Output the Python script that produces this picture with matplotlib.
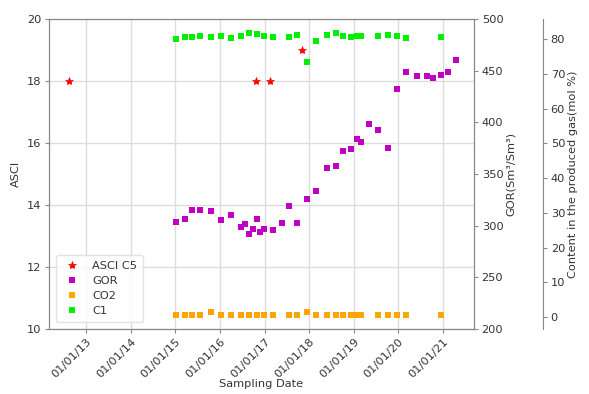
import pandas as pd
import matplotlib.pyplot as plt
import matplotlib.dates as mdates

# ---------------- data ----------------
asci_dates = ['2012-08-12', '2016-10-23', '2017-02-15', '2017-11-01']
asci_c5 = [18, 18, 18, 19]

gor_dates = ['2015-01-05', '2015-03-18', '2015-05-14', '2015-07-24', '2015-10-20',
             '2016-01-08', '2016-04-04', '2016-06-25', '2016-07-23', '2016-08-27',
             '2016-10-01', '2016-10-31', '2016-11-24', '2016-12-27', '2017-03-08',
             '2017-05-26', '2017-07-16', '2017-09-26', '2017-12-14', '2018-02-25',
             '2018-05-23', '2018-08-08', '2018-10-04', '2018-12-06', '2019-01-29',
             '2019-03-01', '2019-05-08', '2019-07-16', '2019-10-06', '2019-12-20',
             '2020-03-05', '2020-06-01', '2020-08-19', '2020-10-12', '2020-12-12',
             '2021-02-10', '2021-04-14']
gor = [304, 306, 315, 315, 314, 305, 310, 299, 302, 292, 297, 306, 294, 296.5, 296,
       303, 319, 303, 326, 334, 356, 358, 372, 374, 384, 381, 398, 393, 375, 432,
       449, 444.5, 444.5, 443, 446, 449, 460]

gas_dates = ['2015-01-05', '2015-03-18', '2015-05-14', '2015-07-24', '2015-10-20',
             '2016-01-08', '2016-04-04', '2016-06-25', '2016-08-27', '2016-10-31',
             '2016-12-27', '2017-03-08', '2017-07-16', '2017-09-26', '2017-12-14',
             '2018-02-25', '2018-05-23', '2018-08-08', '2018-10-04', '2018-12-06',
             '2019-01-29', '2019-03-01', '2019-07-16', '2019-10-06', '2019-12-20',
             '2020-03-05', '2020-12-12']
co2 = [0.7, 0.7, 0.7, 0.7, 1.4, 0.7, 0.7, 0.7, 0.7, 0.7, 0.7, 0.7, 0.7, 0.7, 1.4,
       0.7, 0.7, 0.7, 0.7, 0.7, 0.7, 0.7, 0.7, 0.7, 0.7, 0.7, 0.7]
c1 = [80.0, 80.7, 80.7, 81.0, 80.5, 81.0, 80.3, 80.8, 81.7, 81.4, 80.8, 80.5, 80.7,
      81.2, 73.3, 79.6, 81.3, 81.7, 80.9, 80.6, 80.9, 80.9, 80.9, 81.2, 80.8, 80.4, 80.7]
# ----------------------------------------------------------

grey = '#888888'
txt = '#333333'
plt.rcParams['font.family'] = 'DejaVu Sans'
plt.rcParams['font.size'] = 8.2

fig = plt.figure(figsize=(5.89, 3.94), dpi=100)
ax = fig.add_axes([0.0832, 0.165, 0.7216, 0.7868])
ax2 = ax.twinx()
ax3 = ax.twinx()
ax3.spines['right'].set_position(('axes', 1.1624))

h1, = ax.plot(pd.to_datetime(asci_dates), asci_c5, '*', color='red', ms=6,
              mew=0.5, label='ASCI C5')
h2, = ax2.plot(pd.to_datetime(gor_dates), gor, 's', color='#c000c0', ms=4.3,
               mew=0, label='GOR')
h3, = ax3.plot(pd.to_datetime(gas_dates), co2, 's', color='#ffa500', ms=4.3,
               mew=0, label='CO2')
h4, = ax3.plot(pd.to_datetime(gas_dates), c1, 's', color='#00ee00', ms=4.3,
               mew=0, label='C1')

ax.set_xlim(pd.Timestamp('2012-03-03'), pd.Timestamp('2021-09-11'))
ax.set_ylim(10, 20)
ax.set_yticks([10, 12, 14, 16, 18, 20])
ax2.set_ylim(200, 500)
ax2.set_yticks([200, 250, 300, 350, 400, 450, 500])
ax3.set_ylim(-3.4, 85.8)
ax3.set_yticks([0, 10, 20, 30, 40, 50, 60, 70, 80])

ax.xaxis.set_major_locator(mdates.YearLocator())
ax.xaxis.set_major_formatter(mdates.DateFormatter('%d/%m/%y'))
for lab in ax.get_xticklabels():
    lab.set_rotation(45)
    lab.set_ha('right')
    lab.set_rotation_mode('anchor')

ax.grid(True, color='#dddddd', linewidth=1)
ax.set_axisbelow(True)

for a in (ax, ax2, ax3):
    for s in a.spines.values():
        s.set_color(grey)
    a.tick_params(colors=grey, labelcolor=txt, length=3, pad=2.5)
ax3.spines['left'].set_visible(False)
ax3.spines['top'].set_visible(False)
ax3.spines['bottom'].set_visible(False)

ax.set_xlabel('Sampling Date', color=txt, labelpad=-1)
ax.set_ylabel('ASCI', color=txt)
ax2.set_ylabel('GOR(Sm³/Sm³)', color=txt, labelpad=2)
ax3.set_ylabel('Content in the produced gas(mol %)', color=txt, labelpad=2)

leg = ax3.legend(handles=[h1, h2, h3, h4], loc='lower left', numpoints=1,
                 frameon=True, fontsize=8.2, borderaxespad=0.6,
                 handletextpad=0.9, handlelength=1.8, labelspacing=0.45,
                 borderpad=0.5)
leg.get_frame().set_edgecolor('#dddddd')
for t in leg.get_texts():
    t.set_color(txt)

fig.savefig('out.png', dpi=100)
